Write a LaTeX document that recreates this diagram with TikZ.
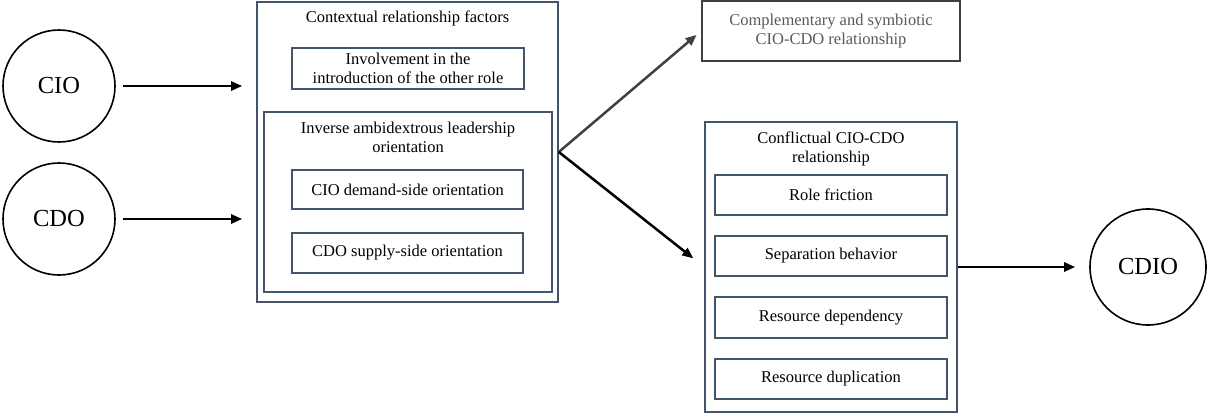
\documentclass[tikz,border=0pt]{standalone}
\usepackage{fontspec}
\setmainfont{Liberation Serif}
\usepackage{xcolor}
\definecolor{boxblue}{RGB}{68,84,106}
\definecolor{darkgray}{RGB}{64,64,64}
\definecolor{textgray}{RGB}{89,89,89}
\usetikzlibrary{arrows.meta,positioning,calc}

\begin{document}
\begin{tikzpicture}[
  x=1pt,y=-1pt,
  every node/.style={font=\fontsize{16.5}{19.5}\selectfont},
  role/.style={draw,circle,line width=1.6pt,minimum size=112pt,inner sep=0pt,
               font=\fontsize{24.5}{28}\selectfont},
  outerbox/.style={draw=boxblue,line width=1.6pt,inner sep=0pt},
  factorbox/.style={draw=boxblue,line width=1.6pt,align=center,inner sep=0pt,
                    minimum width=231pt,minimum height=40pt},
  boxtitle/.style={align=center,inner sep=0pt},
  arr/.style={-{Triangle[length=11pt,width=9pt]},line width=2.5pt},
]
  \useasboundingbox (0,0) rectangle (1210,414);

  % Roles
  \node[role] (cio) at (59,86) {CIO};
  \node[role] (cdo) at (59,219) {CDO};
  \node[role,minimum size=116pt] (cdio) at (1148,267) {CDIO};

  % Contextual relationship factors
  \node[outerbox,minimum width=301pt,minimum height=300pt] (ctx) at (407.5,152) {};
  \node[boxtitle] (ctxtitle) at (407.5,18) {Contextual relationship factors};
  \node[factorbox,minimum width=232pt,minimum height=41pt] (involve) at (408,68.5)
    {Involvement in the\\introduction of the other role};
  \node[outerbox,minimum width=288pt,minimum height=180pt] (inverse) at (408,202) {};
  \node[boxtitle] (invtitle) at (408,137.5)
    {Inverse ambidextrous leadership\\orientation};
  \node[factorbox,minimum height=39pt] (demand) at (407.5,189.5) {CIO demand-side orientation};
  \node[factorbox] (supply) at (407.5,253) {CDO supply-side orientation};

  % Outcomes
  \node[draw=darkgray,line width=1.6pt,align=center,text=textgray,
        minimum width=258pt,minimum height=60pt,inner sep=0pt] (compl) at (831,31)
    {Complementary and symbiotic\\CIO-CDO relationship};
  \node[outerbox,minimum width=252pt,minimum height=290pt] (confl) at (831,267) {};
  \node[boxtitle] (confltitle) at (831,149) {Conflictual CIO-CDO\\relationship};
  \node[factorbox,minimum width=232pt] (friction) at (831,195) {Role friction};
  \node[factorbox,minimum width=232pt] (separation) at (831,256) {Separation behavior};
  \node[factorbox,minimum width=232pt,minimum height=41pt] (dependency) at (831,317.5) {Resource dependency};
  \node[factorbox,minimum width=232pt] (duplication) at (831,379) {Resource duplication};

  % Arrows
  \draw[arr,shorten <=7pt,shorten >=14pt] (cio) -- (cio -| ctx.west);
  \draw[arr,shorten <=7pt,shorten >=14pt] (cdo) -- (cdo -| ctx.west);
  \draw[arr,darkgray,shorten >=6pt] (ctx.east) -- (compl.west);
  \draw[arr,shorten >=14pt] (ctx.east) -- (confl.west);
  \draw[arr,shorten >=14pt] (confl.east) -- (cdio.west);
\end{tikzpicture}
\end{document}
